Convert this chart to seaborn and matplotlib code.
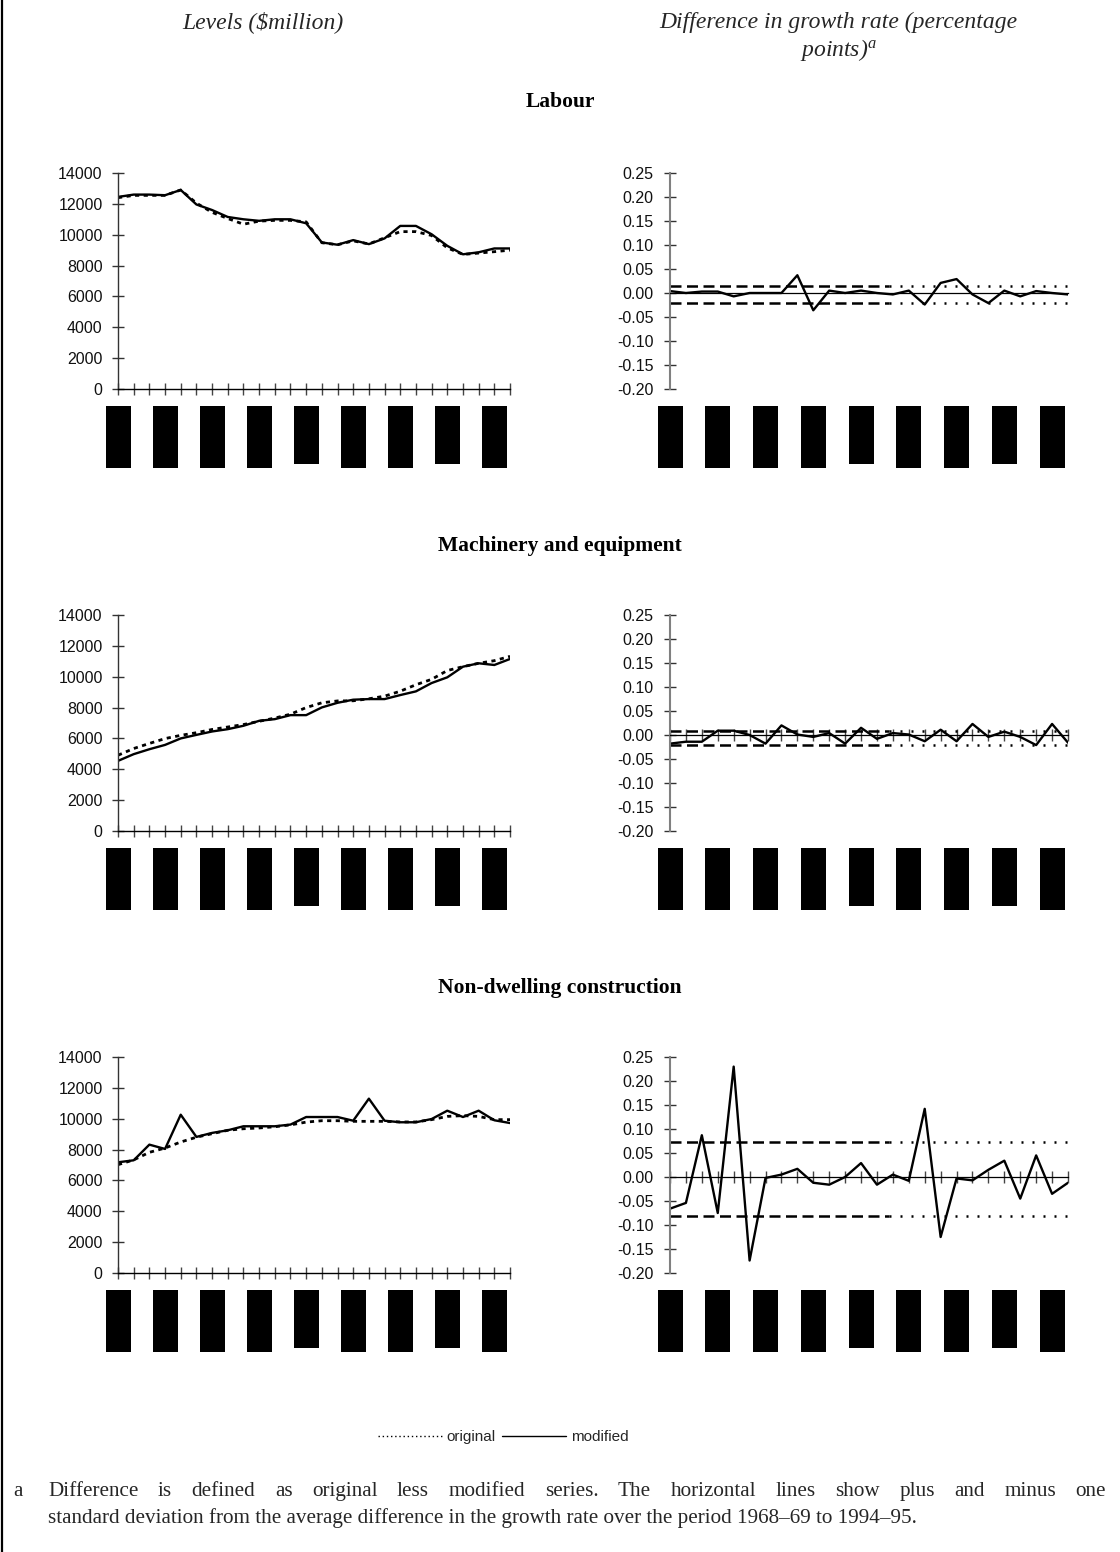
import numpy as np
import pandas as pd
import matplotlib
matplotlib.use("Agg")
import matplotlib.pyplot as plt
import seaborn as sns
from matplotlib.lines import Line2D
from matplotlib.patches import Rectangle
import matplotlib.transforms as mtransforms

# ---------------- data ----------------
periods = list(range(26))                 # category index along the x axis
label_positions = [0, 3, 6, 9, 12, 15, 18, 21, 24]   # where (redacted) period labels sit
short_label_positions = [12, 21]

labour_original = [12400, 12550, 12550, 12550, 12900, 12050, 11450, 11050, 10680, 10880,
                   10930, 10930, 10830, 9480, 9350, 9600, 9400, 9800, 10200, 10200,
                   9950, 9150, 8720, 8810, 8900, 9000]
labour_modified = [12450, 12600, 12600, 12560, 12900, 11960, 11600, 11150, 11000, 10900,
                   11000, 11000, 10740, 9500, 9350, 9650, 9390, 9760, 10570, 10570,
                   10030, 9280, 8730, 8860, 9110, 9110]
labour_diff = [0.004, 0.0, 0.003, 0.003, -0.007, 0.0, 0.0, 0.0, 0.037, -0.036,
               0.005, 0.0, 0.005, 0.0, -0.003, 0.005, -0.024, 0.021, 0.029, -0.003,
               -0.021, 0.005, -0.007, 0.004, 0.0, -0.003]
labour_sd = [0.014, -0.020]

machinery_original = [4910, 5345, 5675, 5990, 6200, 6370, 6580, 6740, 6900, 7110,
                      7320, 7570, 8000, 8310, 8430, 8440, 8570, 8740, 9060, 9480,
                      9830, 10400, 10650, 10870, 11040, 11320]
machinery_modified = [4545, 4980, 5300, 5580, 6000, 6230, 6450, 6600, 6820, 7140,
                      7250, 7510, 7510, 8010, 8310, 8510, 8550, 8550, 8810, 9050,
                      9590, 9960, 10650, 10870, 10760, 11150]
machinery_diff = [-0.018, -0.014, -0.014, 0.009, 0.009, 0.0, -0.018, 0.020, 0.001, -0.004,
                  0.004, -0.018, 0.015, -0.008, 0.004, 0.001, -0.013, 0.011, -0.013, 0.023,
                  -0.004, 0.007, -0.004, -0.021, 0.023, -0.016]
machinery_sd = [0.009, -0.021]

nondwelling_original = [7020, 7330, 7820, 8100, 8490, 8800, 9030, 9250, 9350, 9400,
                        9480, 9600, 9780, 9870, 9870, 9830, 9830, 9830, 9790, 9790,
                        9940, 10150, 10200, 10150, 9940, 9940]
nondwelling_modified = [7175, 7305, 8320, 8040, 10260, 8820, 9080, 9250, 9510, 9510,
                        9510, 9620, 10110, 10110, 10110, 9870, 11300, 9870, 9770, 9770,
                        9980, 10520, 10110, 10520, 9900, 9720]
nondwelling_diff = [-0.066, -0.054, 0.087, -0.075, 0.230, -0.174, -0.002, 0.005, 0.017, -0.012,
                    -0.016, 0.0, 0.029, -0.016, 0.005, -0.008, 0.142, -0.125, -0.003, -0.007,
                    0.015, 0.034, -0.045, 0.045, -0.035, -0.012]
nondwelling_sd = [0.073, -0.081]

row_titles = ["Labour", "Machinery and equipment", "Non-dwelling construction"]
level_ticks = [0, 2000, 4000, 6000, 8000, 10000, 12000, 14000]
diff_ticks = [-0.20, -0.15, -0.10, -0.05, 0.00, 0.05, 0.10, 0.15, 0.20, 0.25]

# ---------------- style ----------------
sns.set_theme(style="white")
plt.rcParams['font.family'] = ['Liberation Sans', 'DejaVu Sans']
plt.rcParams['axes.unicode_minus'] = False
plt.rcParams['mathtext.fontset'] = 'custom'
plt.rcParams['mathtext.it'] = 'Liberation Serif:italic'
plt.rcParams['mathtext.rm'] = 'Liberation Serif'

W, H = 1120, 1552
fig = plt.figure(figsize=(W / 100, H / 100), dpi=100)
fig.patch.set_facecolor('white')

SERIF = 'Liberation Serif'
TICK_FS = 11.5


def px_axes(x0, y0, w, h):
    return fig.add_axes([x0 / W, 1 - (y0 + h) / H, w / W, h / H])


def label_boxes(ax, ax_w_px):
    trans = mtransforms.blended_transform_factory(ax.transData, ax.transAxes)
    unit_px = ax_w_px / (len(periods) - 1)
    bw = 25 / unit_px
    for k in label_positions:
        bottom = -75 / 216 if k in short_label_positions else -79 / 216
        top = -17 / 216
        ax.add_patch(Rectangle((k - bw / 2, bottom), bw, top - bottom, transform=trans,
                               facecolor='black', edgecolor='none', clip_on=False))


def draw_levels(ax, orig, mod, ax_w_px):
    df = pd.DataFrame({'period': periods, 'original': orig, 'modified': mod})
    sns.lineplot(data=df, x='period', y='modified', ax=ax, color='black', lw=1.7)
    sns.lineplot(data=df, x='period', y='original', ax=ax, color='black', lw=2.0,
                 linestyle=(0, (1.5, 1.6)))
    ax.set_xlim(0, len(periods) - 1)
    ax.set_ylim(level_ticks[0], level_ticks[-1])
    ax.set_xticks(periods)
    ax.set_xticklabels([])
    ax.set_yticks(level_ticks)
    ax.set_yticklabels([str(v) for v in level_ticks], fontsize=TICK_FS, color='#111111')
    ax.set_xlabel('')
    ax.set_ylabel('')
    for s in ['top', 'right']:
        ax.spines[s].set_visible(False)
    ax.spines['left'].set_color('#333333')
    ax.spines['left'].set_linewidth(1.0)
    ax.spines['bottom'].set_color('black')
    ax.spines['bottom'].set_linewidth(1.0)
    ax.tick_params(axis='x', direction='inout', length=8.6, width=1.0, color='#444444', bottom=True)
    ax.tick_params(axis='y', direction='inout', length=8, width=1.0, color='#333333', pad=7, left=True)
    label_boxes(ax, ax_w_px)


def draw_diff(ax, diff, sd, show_xticks, ax_w_px):
    df = pd.DataFrame({'period': periods, 'diff': diff})
    ax.spines['bottom'].set_position(('data', 0))
    sns.lineplot(data=df, x='period', y='diff', ax=ax, color='black', lw=1.7)
    for v in sd:
        ax.axhline(v, xmin=0, xmax=0.55, color='black', lw=1.8, linestyle=(0, (4.4, 2.2)))
        ax.axhline(v, xmin=0.55, xmax=1, color='black', lw=1.8, linestyle=(0, (0.8, 3.6)))
    ax.set_xlim(0, len(periods) - 1)
    ax.set_ylim(diff_ticks[0], diff_ticks[-1])
    ax.set_xticks(periods)
    ax.set_xticklabels([])
    ax.set_yticks(diff_ticks)
    ax.set_yticklabels([f"{round(v, 2):.2f}".replace('-0.00', '0.00') for v in diff_ticks],
                       fontsize=TICK_FS, color='#111111')
    ax.set_xlabel('')
    ax.set_ylabel('')
    for s in ['top', 'right']:
        ax.spines[s].set_visible(False)
    ax.spines['left'].set_color('#808080')
    ax.spines['left'].set_linewidth(1.5)
    ax.spines['bottom'].set_color('black')
    ax.spines['bottom'].set_linewidth(0.9)
    ax.tick_params(axis='x', direction='inout', length=8.6 if show_xticks else 0,
                   width=1.0, color='#444444', bottom=True)
    ax.tick_params(axis='y', direction='inout', length=8, width=1.0, color='#333333', pad=8, left=True)
    label_boxes(ax, ax_w_px)


rows = [
    (labour_original, labour_modified, labour_diff, labour_sd, False),
    (machinery_original, machinery_modified, machinery_diff, machinery_sd, True),
    (nondwelling_original, nondwelling_modified, nondwelling_diff, nondwelling_sd, True),
]
tops = [173, 615, 1057]
title_y = [102, 546, 988]
AX_H = 216
LX, LW = 118, 392
RX, RW = 670, 398

for (orig, mod, diff, sd, show), top, ty, title in zip(rows, tops, title_y, row_titles):
    axl = px_axes(LX, top, LW, AX_H)
    draw_levels(axl, orig, mod, LW)
    axr = px_axes(RX, top, RW, AX_H)
    draw_diff(axr, diff, sd, show, RW)
    fig.text(560 / W, 1 - ty / H, title, ha='center', va='center', family=SERIF,
             fontweight='bold', fontsize=15.5, color='black')

# column headings
HEAD_FS = 17
fig.text(263 / W, 1 - 22 / H, "Levels (\\$million)", ha='center', va='center',
         family=SERIF, style='italic', fontsize=HEAD_FS)
fig.text(838 / W, 1 - 22 / H, "Difference in growth rate (percentage", ha='center',
         va='center', family=SERIF, style='italic', fontsize=HEAD_FS)
fig.text(838 / W, 1 - 50 / H, "points)$^{a}$", ha='center', va='center',
         family=SERIF, style='italic', fontsize=HEAD_FS)

# legend
handles = [Line2D([], [], color='black', lw=1.0, linestyle=(0, (1, 2))),
           Line2D([], [], color='black', lw=1.0)]
fig.legend(handles=handles, labels=['original', 'modified'], loc='center',
           bbox_to_anchor=(503 / W, 1 - 1437 / H), ncol=2, frameon=False,
           handlelength=4.2, handletextpad=0.3, columnspacing=0.4, fontsize=11)

# footnote (first line justified)
renderer = fig.canvas.get_renderer()
FOOT_FS = 15.2


def justified_line(text, x0, x1, y):
    words = text.split()
    widths = []
    for w in words:
        t = fig.text(0, 0, w, family=SERIF, fontsize=FOOT_FS)
        widths.append(t.get_window_extent(renderer).width)
        t.remove()
    gap = (x1 - x0 - sum(widths)) / (len(words) - 1)
    x = x0
    for w, wd in zip(words, widths):
        fig.text(x / W, 1 - y / H, w, family=SERIF, fontsize=FOOT_FS, va='baseline', ha='left')
        x += wd + gap


BASE1, BASE2 = 1496, 1523
fig.text(13 / W, 1 - BASE1 / H, "a", family=SERIF, fontsize=FOOT_FS, va='baseline', ha='left')
justified_line("Difference is defined as original less modified series.  The horizontal lines "
               "show plus and minus one", 48, 1106, BASE1)
fig.text(48 / W, 1 - BASE2 / H,
         "standard deviation from the average difference in the growth rate over the period "
         "1968\u201369 to 1994\u201395.", family=SERIF, fontsize=FOOT_FS, va='baseline', ha='left')

# left page border
fig.add_artist(Line2D([2 / W, 2 / W], [0, 1], transform=fig.transFigure, color='black', lw=1.6))

fig.savefig("out.png", dpi=100, facecolor='white')
